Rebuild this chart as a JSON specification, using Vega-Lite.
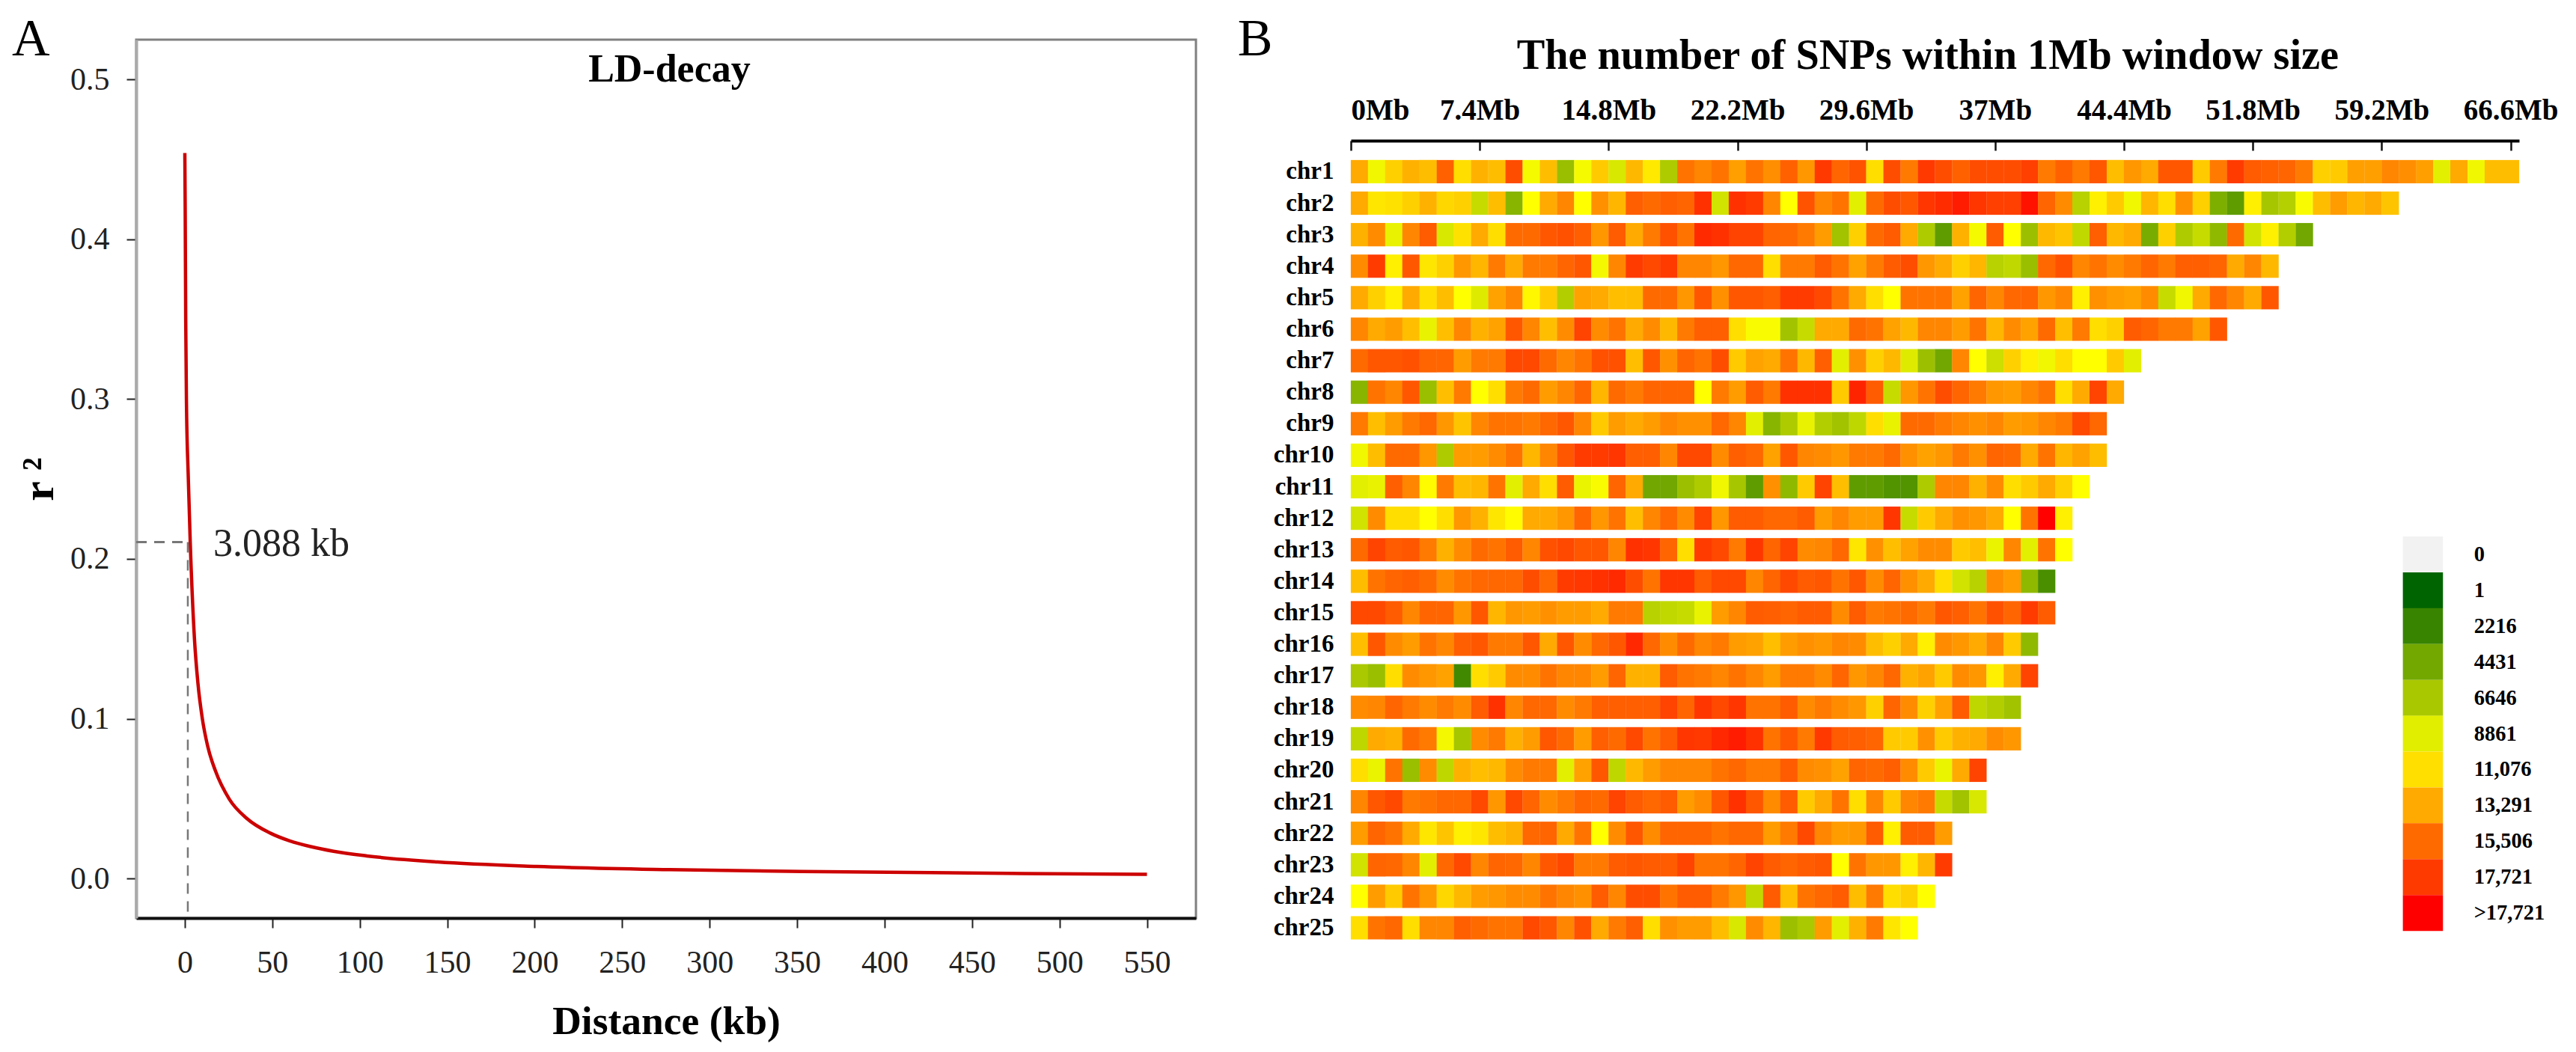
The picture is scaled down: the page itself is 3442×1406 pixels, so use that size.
{"$schema":"https://vega.github.io/schema/vega-lite/v6.json","background":"white","padding":{"left":14,"top":16,"right":0,"bottom":0},"spacing":53,"config":{"font":"Liberation Serif","axis":{"grid":false},"title":{"font":"Liberation Serif"},"legend":{"disable":true}},"hconcat":[{"width":1416,"height":1174,"view":{"stroke":"#808080","strokeWidth":3},"layer":[{"data":{"values":[{"kb":0,"r2":0.454},{"kb":0.2,"r2":0.42},{"kb":0.5,"r2":0.35},{"kb":0.9,"r2":0.3},{"kb":2,"r2":0.25},{"kb":3.088,"r2":0.2105},{"kb":5.5,"r2":0.15},{"kb":7.5,"r2":0.122},{"kb":10,"r2":0.1},{"kb":13,"r2":0.083},{"kb":17.5,"r2":0.0673},{"kb":25.5,"r2":0.0495},{"kb":35.5,"r2":0.0375},{"kb":49,"r2":0.0283},{"kb":60,"r2":0.0235},{"kb":72,"r2":0.0199},{"kb":85,"r2":0.017},{"kb":104,"r2":0.0141},{"kb":144.5,"r2":0.0103},{"kb":201,"r2":0.0075},{"kb":277,"r2":0.0055},{"kb":378,"r2":0.0041},{"kb":479,"r2":0.0031},{"kb":550,"r2":0.0026}]},"mark":{"type":"line","color":"#cc0000","strokeWidth":4.5,"interpolate":"monotone"},"encoding":{"x":{"field":"kb","type":"quantitative","title":"Distance (kb)","scale":{"domain":[-27.8,578],"nice":false,"zero":false},"axis":{"values":[0,50,100,150,200,250,300,350,400,450,500,550],"domain":true,"domainColor":"#111111","domainWidth":4,"tickColor":"#222222","tickWidth":2,"tickSize":13,"labelFontSize":42,"labelColor":"#222222","labelPadding":26,"labelFont":"Liberation Serif","titleFontSize":53.5,"titleFontWeight":"bold","titleColor":"#000000","titlePadding":32}},"y":{"field":"r2","type":"quantitative","title":"r ²","scale":{"domain":[-0.0248,0.525],"nice":false,"zero":false},"axis":{"values":[0,0.1,0.2,0.3,0.4,0.5],"format":".1f","domain":true,"domainColor":"#aaaaaa","domainWidth":4,"tickColor":"#222222","tickWidth":2,"tickSize":13,"labelFontSize":42,"labelColor":"#222222","labelPadding":23,"titleFontSize":60,"titleFontWeight":"bold","titleColor":"#000000","titlePadding":10}}}},{"data":{"values":[{}]},"mark":{"type":"rule","color":"#777777","strokeWidth":3,"strokeDash":[14,10]},"encoding":{"x":{"datum":-27.8},"x2":{"datum":3.088},"y":{"datum":0.2105}}},{"data":{"values":[{}]},"mark":{"type":"rule","color":"#777777","strokeWidth":2.5,"strokeDash":[14,10]},"encoding":{"x":{"datum":1.7},"y":{"datum":0.2105},"y2":{"datum":-0.0248}}},{"data":{"values":[{}]},"mark":{"type":"text","font":"Liberation Serif","fontSize":52,"align":"left","baseline":"middle","color":"#222222"},"encoding":{"x":{"datum":16.3},"y":{"datum":0.2094},"text":{"value":"3.088 kb"}}},{"data":{"values":[{}]},"mark":{"type":"text","font":"Liberation Serif","fontSize":52,"fontWeight":"bold","align":"center","baseline":"alphabetic","color":"#000000"},"encoding":{"x":{"datum":277},"y":{"datum":0.4988},"text":{"value":"LD-decay"}}},{"data":{"values":[{}]},"mark":{"type":"text","font":"Liberation Serif","fontSize":70,"align":"center","baseline":"alphabetic","color":"#000000","clip":false},"encoding":{"x":{"datum":-88},"y":{"datum":0.5152},"text":{"value":"A"}}}]},{"width":1561,"height":1202.6,"view":{"stroke":null},"resolve":{"scale":{"y":"independent"}},"layer":[{"data":{"values":[{"chr":1,"w":0,"n":13300},{"chr":1,"w":1,"n":9400},{"chr":1,"w":2,"n":11700},{"chr":1,"w":3,"n":13000},{"chr":1,"w":4,"n":12500},{"chr":1,"w":5,"n":16000},{"chr":1,"w":6,"n":11100},{"chr":1,"w":7,"n":13000},{"chr":1,"w":8,"n":12500},{"chr":1,"w":9,"n":17000},{"chr":1,"w":10,"n":9600},{"chr":1,"w":11,"n":12500},{"chr":1,"w":12,"n":6000},{"chr":1,"w":13,"n":9600},{"chr":1,"w":14,"n":11900},{"chr":1,"w":15,"n":8500},{"chr":1,"w":16,"n":12700},{"chr":1,"w":17,"n":10700},{"chr":1,"w":18,"n":6800},{"chr":1,"w":19,"n":15200},{"chr":1,"w":20,"n":14600},{"chr":1,"w":21,"n":15200},{"chr":1,"w":22,"n":13700},{"chr":1,"w":23,"n":15200},{"chr":1,"w":24,"n":14300},{"chr":1,"w":25,"n":16000},{"chr":1,"w":26,"n":14000},{"chr":1,"w":27,"n":17800},{"chr":1,"w":28,"n":15800},{"chr":1,"w":29,"n":16700},{"chr":1,"w":30,"n":11100},{"chr":1,"w":31,"n":17000},{"chr":1,"w":32,"n":15000},{"chr":1,"w":33,"n":17800},{"chr":1,"w":34,"n":17000},{"chr":1,"w":35,"n":16000},{"chr":1,"w":36,"n":17000},{"chr":1,"w":37,"n":17000},{"chr":1,"w":38,"n":17000},{"chr":1,"w":39,"n":17500},{"chr":1,"w":40,"n":15000},{"chr":1,"w":41,"n":16000},{"chr":1,"w":42,"n":15000},{"chr":1,"w":43,"n":16500},{"chr":1,"w":44,"n":12500},{"chr":1,"w":45,"n":14000},{"chr":1,"w":46,"n":13300},{"chr":1,"w":47,"n":16500},{"chr":1,"w":48,"n":16500},{"chr":1,"w":49,"n":11900},{"chr":1,"w":50,"n":15000},{"chr":1,"w":51,"n":17700},{"chr":1,"w":52,"n":16300},{"chr":1,"w":53,"n":16000},{"chr":1,"w":54,"n":15800},{"chr":1,"w":55,"n":15000},{"chr":1,"w":56,"n":11700},{"chr":1,"w":57,"n":11900},{"chr":1,"w":58,"n":13700},{"chr":1,"w":59,"n":13700},{"chr":1,"w":60,"n":14600},{"chr":1,"w":61,"n":14300},{"chr":1,"w":62,"n":13700},{"chr":1,"w":63,"n":8900},{"chr":1,"w":64,"n":13300},{"chr":1,"w":65,"n":9400},{"chr":1,"w":66,"n":12500},{"chr":1,"w":67,"n":12500},{"chr":2,"w":0,"n":13300},{"chr":2,"w":1,"n":10800},{"chr":2,"w":2,"n":11000},{"chr":2,"w":3,"n":11700},{"chr":2,"w":4,"n":13000},{"chr":2,"w":5,"n":11400},{"chr":2,"w":6,"n":11700},{"chr":2,"w":7,"n":7800},{"chr":2,"w":8,"n":12500},{"chr":2,"w":9,"n":5300},{"chr":2,"w":10,"n":9900},{"chr":2,"w":11,"n":13300},{"chr":2,"w":12,"n":14600},{"chr":2,"w":13,"n":9900},{"chr":2,"w":14,"n":14200},{"chr":2,"w":15,"n":12800},{"chr":2,"w":16,"n":16100},{"chr":2,"w":17,"n":15500},{"chr":2,"w":18,"n":16100},{"chr":2,"w":19,"n":15800},{"chr":2,"w":20,"n":18300},{"chr":2,"w":21,"n":8200},{"chr":2,"w":22,"n":18300},{"chr":2,"w":23,"n":17700},{"chr":2,"w":24,"n":14600},{"chr":2,"w":25,"n":9900},{"chr":2,"w":26,"n":16700},{"chr":2,"w":27,"n":14600},{"chr":2,"w":28,"n":15200},{"chr":2,"w":29,"n":8900},{"chr":2,"w":30,"n":15500},{"chr":2,"w":31,"n":17000},{"chr":2,"w":32,"n":16500},{"chr":2,"w":33,"n":18000},{"chr":2,"w":34,"n":18600},{"chr":2,"w":35,"n":19300},{"chr":2,"w":36,"n":18000},{"chr":2,"w":37,"n":17500},{"chr":2,"w":38,"n":17500},{"chr":2,"w":39,"n":19600},{"chr":2,"w":40,"n":15800},{"chr":2,"w":41,"n":14400},{"chr":2,"w":42,"n":7200},{"chr":2,"w":43,"n":10500},{"chr":2,"w":44,"n":11900},{"chr":2,"w":45,"n":9400},{"chr":2,"w":46,"n":12800},{"chr":2,"w":47,"n":11100},{"chr":2,"w":48,"n":14200},{"chr":2,"w":49,"n":11700},{"chr":2,"w":50,"n":4900},{"chr":2,"w":51,"n":3700},{"chr":2,"w":52,"n":10500},{"chr":2,"w":53,"n":6500},{"chr":2,"w":54,"n":7100},{"chr":2,"w":55,"n":9700},{"chr":2,"w":56,"n":12500},{"chr":2,"w":57,"n":13800},{"chr":2,"w":58,"n":12800},{"chr":2,"w":59,"n":13300},{"chr":2,"w":60,"n":12200},{"chr":3,"w":0,"n":13000},{"chr":3,"w":1,"n":14400},{"chr":3,"w":2,"n":9100},{"chr":3,"w":3,"n":14600},{"chr":3,"w":4,"n":16300},{"chr":3,"w":5,"n":8500},{"chr":3,"w":6,"n":11000},{"chr":3,"w":7,"n":13300},{"chr":3,"w":8,"n":11100},{"chr":3,"w":9,"n":15500},{"chr":3,"w":10,"n":15500},{"chr":3,"w":11,"n":16500},{"chr":3,"w":12,"n":16800},{"chr":3,"w":13,"n":16100},{"chr":3,"w":14,"n":14000},{"chr":3,"w":15,"n":16300},{"chr":3,"w":16,"n":13300},{"chr":3,"w":17,"n":15000},{"chr":3,"w":18,"n":16800},{"chr":3,"w":19,"n":15200},{"chr":3,"w":20,"n":18700},{"chr":3,"w":21,"n":18300},{"chr":3,"w":22,"n":17400},{"chr":3,"w":23,"n":17400},{"chr":3,"w":24,"n":15800},{"chr":3,"w":25,"n":15600},{"chr":3,"w":26,"n":15000},{"chr":3,"w":27,"n":13800},{"chr":3,"w":28,"n":6300},{"chr":3,"w":29,"n":11700},{"chr":3,"w":30,"n":15500},{"chr":3,"w":31,"n":16300},{"chr":3,"w":32,"n":13300},{"chr":3,"w":33,"n":6800},{"chr":3,"w":34,"n":3700},{"chr":3,"w":35,"n":13000},{"chr":3,"w":36,"n":9600},{"chr":3,"w":37,"n":16300},{"chr":3,"w":38,"n":9900},{"chr":3,"w":39,"n":6100},{"chr":3,"w":40,"n":12700},{"chr":3,"w":41,"n":12200},{"chr":3,"w":42,"n":7600},{"chr":3,"w":43,"n":16100},{"chr":3,"w":44,"n":12700},{"chr":3,"w":45,"n":13300},{"chr":3,"w":46,"n":4700},{"chr":3,"w":47,"n":11700},{"chr":3,"w":48,"n":6800},{"chr":3,"w":49,"n":7800},{"chr":3,"w":50,"n":5600},{"chr":3,"w":51,"n":15500},{"chr":3,"w":52,"n":8200},{"chr":3,"w":53,"n":10500},{"chr":3,"w":54,"n":7000},{"chr":3,"w":55,"n":4400},{"chr":4,"w":0,"n":14400},{"chr":4,"w":1,"n":17700},{"chr":4,"w":2,"n":10500},{"chr":4,"w":3,"n":16500},{"chr":4,"w":4,"n":10800},{"chr":4,"w":5,"n":11700},{"chr":4,"w":6,"n":14000},{"chr":4,"w":7,"n":12800},{"chr":4,"w":8,"n":15000},{"chr":4,"w":9,"n":13300},{"chr":4,"w":10,"n":15000},{"chr":4,"w":11,"n":15000},{"chr":4,"w":12,"n":15800},{"chr":4,"w":13,"n":16500},{"chr":4,"w":14,"n":9500},{"chr":4,"w":15,"n":14600},{"chr":4,"w":16,"n":17700},{"chr":4,"w":17,"n":17200},{"chr":4,"w":18,"n":17700},{"chr":4,"w":19,"n":14600},{"chr":4,"w":20,"n":14600},{"chr":4,"w":21,"n":14000},{"chr":4,"w":22,"n":15600},{"chr":4,"w":23,"n":15600},{"chr":4,"w":24,"n":11100},{"chr":4,"w":25,"n":15000},{"chr":4,"w":26,"n":15000},{"chr":4,"w":27,"n":16300},{"chr":4,"w":28,"n":15200},{"chr":4,"w":29,"n":13600},{"chr":4,"w":30,"n":15000},{"chr":4,"w":31,"n":16300},{"chr":4,"w":32,"n":17000},{"chr":4,"w":33,"n":14000},{"chr":4,"w":34,"n":13300},{"chr":4,"w":35,"n":11700},{"chr":4,"w":36,"n":12800},{"chr":4,"w":37,"n":7200},{"chr":4,"w":38,"n":7600},{"chr":4,"w":39,"n":6000},{"chr":4,"w":40,"n":15600},{"chr":4,"w":41,"n":16800},{"chr":4,"w":42,"n":14600},{"chr":4,"w":43,"n":15200},{"chr":4,"w":44,"n":14400},{"chr":4,"w":45,"n":15000},{"chr":4,"w":46,"n":15800},{"chr":4,"w":47,"n":15000},{"chr":4,"w":48,"n":16100},{"chr":4,"w":49,"n":16100},{"chr":4,"w":50,"n":15800},{"chr":4,"w":51,"n":13300},{"chr":4,"w":52,"n":14600},{"chr":4,"w":53,"n":12700},{"chr":5,"w":0,"n":13300},{"chr":5,"w":1,"n":11700},{"chr":5,"w":2,"n":10500},{"chr":5,"w":3,"n":13300},{"chr":5,"w":4,"n":11100},{"chr":5,"w":5,"n":12500},{"chr":5,"w":6,"n":9900},{"chr":5,"w":7,"n":8700},{"chr":5,"w":8,"n":13600},{"chr":5,"w":9,"n":14600},{"chr":5,"w":10,"n":10200},{"chr":5,"w":11,"n":11900},{"chr":5,"w":12,"n":7000},{"chr":5,"w":13,"n":13600},{"chr":5,"w":14,"n":13300},{"chr":5,"w":15,"n":12400},{"chr":5,"w":16,"n":12500},{"chr":5,"w":17,"n":15500},{"chr":5,"w":18,"n":15500},{"chr":5,"w":19,"n":14000},{"chr":5,"w":20,"n":16500},{"chr":5,"w":21,"n":14200},{"chr":5,"w":22,"n":16500},{"chr":5,"w":23,"n":16500},{"chr":5,"w":24,"n":16100},{"chr":5,"w":25,"n":17700},{"chr":5,"w":26,"n":17700},{"chr":5,"w":27,"n":17200},{"chr":5,"w":28,"n":15200},{"chr":5,"w":29,"n":13300},{"chr":5,"w":30,"n":11100},{"chr":5,"w":31,"n":9900},{"chr":5,"w":32,"n":15200},{"chr":5,"w":33,"n":15200},{"chr":5,"w":34,"n":15200},{"chr":5,"w":35,"n":13600},{"chr":5,"w":36,"n":15800},{"chr":5,"w":37,"n":14600},{"chr":5,"w":38,"n":15600},{"chr":5,"w":39,"n":15800},{"chr":5,"w":40,"n":14000},{"chr":5,"w":41,"n":14600},{"chr":5,"w":42,"n":10500},{"chr":5,"w":43,"n":14200},{"chr":5,"w":44,"n":13800},{"chr":5,"w":45,"n":13600},{"chr":5,"w":46,"n":14400},{"chr":5,"w":47,"n":7800},{"chr":5,"w":48,"n":9400},{"chr":5,"w":49,"n":13300},{"chr":5,"w":50,"n":15600},{"chr":5,"w":51,"n":14600},{"chr":5,"w":52,"n":13300},{"chr":5,"w":53,"n":16500},{"chr":6,"w":0,"n":14600},{"chr":6,"w":1,"n":13300},{"chr":6,"w":2,"n":13800},{"chr":6,"w":3,"n":12400},{"chr":6,"w":4,"n":9100},{"chr":6,"w":5,"n":12400},{"chr":6,"w":6,"n":14600},{"chr":6,"w":7,"n":13000},{"chr":6,"w":8,"n":13600},{"chr":6,"w":9,"n":16500},{"chr":6,"w":10,"n":14600},{"chr":6,"w":11,"n":12400},{"chr":6,"w":12,"n":14400},{"chr":6,"w":13,"n":17400},{"chr":6,"w":14,"n":14400},{"chr":6,"w":15,"n":15200},{"chr":6,"w":16,"n":13300},{"chr":6,"w":17,"n":14400},{"chr":6,"w":18,"n":12700},{"chr":6,"w":19,"n":15000},{"chr":6,"w":20,"n":16100},{"chr":6,"w":21,"n":16100},{"chr":6,"w":22,"n":11100},{"chr":6,"w":23,"n":9700},{"chr":6,"w":24,"n":9700},{"chr":6,"w":25,"n":6300},{"chr":6,"w":26,"n":7800},{"chr":6,"w":27,"n":13300},{"chr":6,"w":28,"n":13300},{"chr":6,"w":29,"n":15500},{"chr":6,"w":30,"n":15200},{"chr":6,"w":31,"n":13600},{"chr":6,"w":32,"n":12700},{"chr":6,"w":33,"n":14600},{"chr":6,"w":34,"n":14600},{"chr":6,"w":35,"n":13800},{"chr":6,"w":36,"n":15200},{"chr":6,"w":37,"n":12800},{"chr":6,"w":38,"n":14400},{"chr":6,"w":39,"n":13600},{"chr":6,"w":40,"n":15500},{"chr":6,"w":41,"n":12400},{"chr":6,"w":42,"n":15000},{"chr":6,"w":43,"n":11100},{"chr":6,"w":44,"n":11700},{"chr":6,"w":45,"n":16300},{"chr":6,"w":46,"n":15800},{"chr":6,"w":47,"n":15000},{"chr":6,"w":48,"n":15000},{"chr":6,"w":49,"n":13600},{"chr":6,"w":50,"n":16500},{"chr":7,"w":0,"n":15500},{"chr":7,"w":1,"n":16500},{"chr":7,"w":2,"n":16500},{"chr":7,"w":3,"n":16800},{"chr":7,"w":4,"n":15800},{"chr":7,"w":5,"n":15800},{"chr":7,"w":6,"n":13800},{"chr":7,"w":7,"n":15000},{"chr":7,"w":8,"n":15000},{"chr":7,"w":9,"n":17200},{"chr":7,"w":10,"n":17200},{"chr":7,"w":11,"n":15500},{"chr":7,"w":12,"n":14600},{"chr":7,"w":13,"n":15200},{"chr":7,"w":14,"n":16800},{"chr":7,"w":15,"n":16800},{"chr":7,"w":16,"n":12400},{"chr":7,"w":17,"n":16500},{"chr":7,"w":18,"n":14200},{"chr":7,"w":19,"n":15800},{"chr":7,"w":20,"n":15200},{"chr":7,"w":21,"n":17000},{"chr":7,"w":22,"n":11900},{"chr":7,"w":23,"n":13600},{"chr":7,"w":24,"n":13300},{"chr":7,"w":25,"n":15200},{"chr":7,"w":26,"n":12700},{"chr":7,"w":27,"n":16100},{"chr":7,"w":28,"n":8900},{"chr":7,"w":29,"n":14200},{"chr":7,"w":30,"n":11700},{"chr":7,"w":31,"n":12700},{"chr":7,"w":32,"n":8700},{"chr":7,"w":33,"n":6100},{"chr":7,"w":34,"n":4400},{"chr":7,"w":35,"n":14600},{"chr":7,"w":36,"n":9900},{"chr":7,"w":37,"n":8000},{"chr":7,"w":38,"n":11700},{"chr":7,"w":39,"n":10500},{"chr":7,"w":40,"n":9400},{"chr":7,"w":41,"n":11100},{"chr":7,"w":42,"n":9900},{"chr":7,"w":43,"n":9900},{"chr":7,"w":44,"n":11900},{"chr":7,"w":45,"n":8900},{"chr":8,"w":0,"n":5300},{"chr":8,"w":1,"n":15200},{"chr":8,"w":2,"n":14600},{"chr":8,"w":3,"n":16500},{"chr":8,"w":4,"n":6000},{"chr":8,"w":5,"n":12400},{"chr":8,"w":6,"n":15000},{"chr":8,"w":7,"n":9900},{"chr":8,"w":8,"n":11100},{"chr":8,"w":9,"n":15000},{"chr":8,"w":10,"n":15500},{"chr":8,"w":11,"n":13800},{"chr":8,"w":12,"n":14600},{"chr":8,"w":13,"n":15800},{"chr":8,"w":14,"n":12800},{"chr":8,"w":15,"n":15500},{"chr":8,"w":16,"n":15000},{"chr":8,"w":17,"n":15800},{"chr":8,"w":18,"n":15800},{"chr":8,"w":19,"n":15800},{"chr":8,"w":20,"n":9900},{"chr":8,"w":21,"n":15000},{"chr":8,"w":22,"n":13800},{"chr":8,"w":23,"n":16300},{"chr":8,"w":24,"n":15000},{"chr":8,"w":25,"n":18300},{"chr":8,"w":26,"n":18300},{"chr":8,"w":27,"n":18300},{"chr":8,"w":28,"n":11900},{"chr":8,"w":29,"n":19000},{"chr":8,"w":30,"n":16300},{"chr":8,"w":31,"n":7800},{"chr":8,"w":32,"n":14000},{"chr":8,"w":33,"n":15200},{"chr":8,"w":34,"n":17000},{"chr":8,"w":35,"n":15800},{"chr":8,"w":36,"n":15000},{"chr":8,"w":37,"n":14000},{"chr":8,"w":38,"n":13800},{"chr":8,"w":39,"n":14600},{"chr":8,"w":40,"n":15200},{"chr":8,"w":41,"n":11100},{"chr":8,"w":42,"n":13300},{"chr":8,"w":43,"n":17400},{"chr":8,"w":44,"n":13300},{"chr":9,"w":0,"n":15000},{"chr":9,"w":1,"n":12400},{"chr":9,"w":2,"n":13800},{"chr":9,"w":3,"n":15000},{"chr":9,"w":4,"n":15700},{"chr":9,"w":5,"n":14000},{"chr":9,"w":6,"n":12200},{"chr":9,"w":7,"n":14600},{"chr":9,"w":8,"n":15200},{"chr":9,"w":9,"n":15200},{"chr":9,"w":10,"n":15000},{"chr":9,"w":11,"n":15700},{"chr":9,"w":12,"n":16500},{"chr":9,"w":13,"n":14600},{"chr":9,"w":14,"n":11900},{"chr":9,"w":15,"n":13800},{"chr":9,"w":16,"n":13300},{"chr":9,"w":17,"n":13800},{"chr":9,"w":18,"n":14600},{"chr":9,"w":19,"n":14200},{"chr":9,"w":20,"n":14200},{"chr":9,"w":21,"n":15700},{"chr":9,"w":22,"n":14600},{"chr":9,"w":23,"n":8900},{"chr":9,"w":24,"n":5300},{"chr":9,"w":25,"n":6800},{"chr":9,"w":26,"n":9100},{"chr":9,"w":27,"n":7000},{"chr":9,"w":28,"n":6300},{"chr":9,"w":29,"n":7500},{"chr":9,"w":30,"n":11100},{"chr":9,"w":31,"n":9100},{"chr":9,"w":32,"n":15500},{"chr":9,"w":33,"n":15500},{"chr":9,"w":34,"n":15000},{"chr":9,"w":35,"n":14600},{"chr":9,"w":36,"n":14200},{"chr":9,"w":37,"n":14600},{"chr":9,"w":38,"n":13800},{"chr":9,"w":39,"n":14000},{"chr":9,"w":40,"n":14600},{"chr":9,"w":41,"n":15000},{"chr":9,"w":42,"n":17200},{"chr":9,"w":43,"n":15700},{"chr":10,"w":0,"n":9400},{"chr":10,"w":1,"n":12500},{"chr":10,"w":2,"n":15500},{"chr":10,"w":3,"n":15500},{"chr":10,"w":4,"n":14000},{"chr":10,"w":5,"n":6800},{"chr":10,"w":6,"n":13800},{"chr":10,"w":7,"n":13800},{"chr":10,"w":8,"n":14400},{"chr":10,"w":9,"n":15200},{"chr":10,"w":10,"n":12800},{"chr":10,"w":11,"n":14600},{"chr":10,"w":12,"n":16500},{"chr":10,"w":13,"n":17700},{"chr":10,"w":14,"n":17700},{"chr":10,"w":15,"n":18000},{"chr":10,"w":16,"n":16100},{"chr":10,"w":17,"n":16100},{"chr":10,"w":18,"n":14600},{"chr":10,"w":19,"n":17200},{"chr":10,"w":20,"n":17200},{"chr":10,"w":21,"n":14400},{"chr":10,"w":22,"n":16100},{"chr":10,"w":23,"n":15700},{"chr":10,"w":24,"n":13600},{"chr":10,"w":25,"n":16500},{"chr":10,"w":26,"n":14600},{"chr":10,"w":27,"n":14400},{"chr":10,"w":28,"n":14000},{"chr":10,"w":29,"n":15000},{"chr":10,"w":30,"n":15000},{"chr":10,"w":31,"n":15500},{"chr":10,"w":32,"n":14200},{"chr":10,"w":33,"n":13600},{"chr":10,"w":34,"n":14000},{"chr":10,"w":35,"n":15000},{"chr":10,"w":36,"n":14200},{"chr":10,"w":37,"n":15800},{"chr":10,"w":38,"n":15500},{"chr":10,"w":39,"n":13300},{"chr":10,"w":40,"n":15200},{"chr":10,"w":41,"n":12800},{"chr":10,"w":42,"n":13600},{"chr":10,"w":43,"n":12500},{"chr":11,"w":0,"n":8900},{"chr":11,"w":1,"n":9100},{"chr":11,"w":2,"n":16100},{"chr":11,"w":3,"n":14600},{"chr":11,"w":4,"n":10000},{"chr":11,"w":5,"n":15000},{"chr":11,"w":6,"n":12500},{"chr":11,"w":7,"n":12800},{"chr":11,"w":8,"n":15200},{"chr":11,"w":9,"n":8900},{"chr":11,"w":10,"n":13300},{"chr":11,"w":11,"n":11100},{"chr":11,"w":12,"n":16300},{"chr":11,"w":13,"n":9200},{"chr":11,"w":14,"n":9700},{"chr":11,"w":15,"n":15800},{"chr":11,"w":16,"n":13300},{"chr":11,"w":17,"n":4400},{"chr":11,"w":18,"n":4400},{"chr":11,"w":19,"n":6100},{"chr":11,"w":20,"n":6800},{"chr":11,"w":21,"n":9400},{"chr":11,"w":22,"n":6500},{"chr":11,"w":23,"n":3700},{"chr":11,"w":24,"n":14200},{"chr":11,"w":25,"n":5600},{"chr":11,"w":26,"n":11900},{"chr":11,"w":27,"n":17400},{"chr":11,"w":28,"n":12400},{"chr":11,"w":29,"n":3700},{"chr":11,"w":30,"n":3700},{"chr":11,"w":31,"n":3200},{"chr":11,"w":32,"n":3200},{"chr":11,"w":33,"n":6800},{"chr":11,"w":34,"n":14600},{"chr":11,"w":35,"n":14600},{"chr":11,"w":36,"n":13000},{"chr":11,"w":37,"n":14400},{"chr":11,"w":38,"n":11100},{"chr":11,"w":39,"n":11900},{"chr":11,"w":40,"n":13300},{"chr":11,"w":41,"n":11700},{"chr":11,"w":42,"n":9900},{"chr":12,"w":0,"n":8200},{"chr":12,"w":1,"n":14400},{"chr":12,"w":2,"n":11100},{"chr":12,"w":3,"n":11100},{"chr":12,"w":4,"n":9900},{"chr":12,"w":5,"n":11100},{"chr":12,"w":6,"n":14000},{"chr":12,"w":7,"n":13000},{"chr":12,"w":8,"n":10800},{"chr":12,"w":9,"n":10000},{"chr":12,"w":10,"n":13300},{"chr":12,"w":11,"n":13300},{"chr":12,"w":12,"n":14000},{"chr":12,"w":13,"n":15800},{"chr":12,"w":14,"n":14000},{"chr":12,"w":15,"n":15200},{"chr":12,"w":16,"n":12400},{"chr":12,"w":17,"n":14600},{"chr":12,"w":18,"n":15600},{"chr":12,"w":19,"n":14400},{"chr":12,"w":20,"n":17400},{"chr":12,"w":21,"n":14000},{"chr":12,"w":22,"n":16300},{"chr":12,"w":23,"n":16300},{"chr":12,"w":24,"n":15700},{"chr":12,"w":25,"n":15700},{"chr":12,"w":26,"n":16300},{"chr":12,"w":27,"n":13800},{"chr":12,"w":28,"n":14600},{"chr":12,"w":29,"n":13800},{"chr":12,"w":30,"n":13800},{"chr":12,"w":31,"n":18000},{"chr":12,"w":32,"n":7800},{"chr":12,"w":33,"n":11900},{"chr":12,"w":34,"n":13300},{"chr":12,"w":35,"n":14200},{"chr":12,"w":36,"n":14000},{"chr":12,"w":37,"n":13300},{"chr":12,"w":38,"n":9900},{"chr":12,"w":39,"n":15200},{"chr":12,"w":40,"n":19900},{"chr":12,"w":41,"n":10500},{"chr":13,"w":0,"n":15500},{"chr":13,"w":1,"n":17400},{"chr":13,"w":2,"n":16300},{"chr":13,"w":3,"n":16500},{"chr":13,"w":4,"n":15000},{"chr":13,"w":5,"n":13000},{"chr":13,"w":6,"n":14400},{"chr":13,"w":7,"n":15500},{"chr":13,"w":8,"n":15200},{"chr":13,"w":9,"n":16300},{"chr":13,"w":10,"n":14600},{"chr":13,"w":11,"n":16800},{"chr":13,"w":12,"n":17200},{"chr":13,"w":13,"n":16500},{"chr":13,"w":14,"n":16500},{"chr":13,"w":15,"n":14600},{"chr":13,"w":16,"n":18300},{"chr":13,"w":17,"n":18000},{"chr":13,"w":18,"n":15800},{"chr":13,"w":19,"n":11100},{"chr":13,"w":20,"n":17700},{"chr":13,"w":21,"n":17200},{"chr":13,"w":22,"n":15000},{"chr":13,"w":23,"n":18000},{"chr":13,"w":24,"n":15800},{"chr":13,"w":25,"n":17400},{"chr":13,"w":26,"n":14400},{"chr":13,"w":27,"n":14600},{"chr":13,"w":28,"n":15700},{"chr":13,"w":29,"n":10800},{"chr":13,"w":30,"n":14200},{"chr":13,"w":31,"n":12400},{"chr":13,"w":32,"n":13600},{"chr":13,"w":33,"n":14400},{"chr":13,"w":34,"n":14400},{"chr":13,"w":35,"n":11900},{"chr":13,"w":36,"n":12400},{"chr":13,"w":37,"n":9200},{"chr":13,"w":38,"n":14600},{"chr":13,"w":39,"n":8900},{"chr":13,"w":40,"n":15200},{"chr":13,"w":41,"n":9900},{"chr":14,"w":0,"n":12500},{"chr":14,"w":1,"n":15200},{"chr":14,"w":2,"n":15800},{"chr":14,"w":3,"n":16100},{"chr":14,"w":4,"n":15500},{"chr":14,"w":5,"n":14400},{"chr":14,"w":6,"n":15200},{"chr":14,"w":7,"n":15700},{"chr":14,"w":8,"n":15700},{"chr":14,"w":9,"n":15700},{"chr":14,"w":10,"n":17000},{"chr":14,"w":11,"n":15700},{"chr":14,"w":12,"n":17700},{"chr":14,"w":13,"n":17900},{"chr":14,"w":14,"n":18300},{"chr":14,"w":15,"n":18700},{"chr":14,"w":16,"n":17000},{"chr":14,"w":17,"n":15200},{"chr":14,"w":18,"n":18000},{"chr":14,"w":19,"n":18000},{"chr":14,"w":20,"n":16300},{"chr":14,"w":21,"n":17200},{"chr":14,"w":22,"n":17200},{"chr":14,"w":23,"n":14600},{"chr":14,"w":24,"n":15800},{"chr":14,"w":25,"n":17200},{"chr":14,"w":26,"n":16300},{"chr":14,"w":27,"n":16500},{"chr":14,"w":28,"n":15200},{"chr":14,"w":29,"n":16500},{"chr":14,"w":30,"n":14400},{"chr":14,"w":31,"n":15800},{"chr":14,"w":32,"n":14200},{"chr":14,"w":33,"n":13300},{"chr":14,"w":34,"n":11100},{"chr":14,"w":35,"n":8200},{"chr":14,"w":36,"n":7200},{"chr":14,"w":37,"n":14400},{"chr":14,"w":38,"n":13800},{"chr":14,"w":39,"n":5600},{"chr":14,"w":40,"n":2900},{"chr":15,"w":0,"n":17200},{"chr":15,"w":1,"n":17200},{"chr":15,"w":2,"n":16300},{"chr":15,"w":3,"n":14600},{"chr":15,"w":4,"n":15800},{"chr":15,"w":5,"n":15800},{"chr":15,"w":6,"n":14000},{"chr":15,"w":7,"n":16500},{"chr":15,"w":8,"n":12800},{"chr":15,"w":9,"n":14000},{"chr":15,"w":10,"n":13800},{"chr":15,"w":11,"n":14200},{"chr":15,"w":12,"n":13800},{"chr":15,"w":13,"n":13800},{"chr":15,"w":14,"n":13300},{"chr":15,"w":15,"n":15000},{"chr":15,"w":16,"n":15000},{"chr":15,"w":17,"n":7200},{"chr":15,"w":18,"n":7600},{"chr":15,"w":19,"n":7800},{"chr":15,"w":20,"n":9100},{"chr":15,"w":21,"n":13800},{"chr":15,"w":22,"n":14600},{"chr":15,"w":23,"n":16300},{"chr":15,"w":24,"n":16100},{"chr":15,"w":25,"n":15800},{"chr":15,"w":26,"n":16300},{"chr":15,"w":27,"n":16300},{"chr":15,"w":28,"n":14400},{"chr":15,"w":29,"n":16300},{"chr":15,"w":30,"n":15000},{"chr":15,"w":31,"n":15200},{"chr":15,"w":32,"n":15500},{"chr":15,"w":33,"n":15000},{"chr":15,"w":34,"n":16500},{"chr":15,"w":35,"n":16100},{"chr":15,"w":36,"n":15200},{"chr":15,"w":37,"n":16800},{"chr":15,"w":38,"n":15800},{"chr":15,"w":39,"n":17700},{"chr":15,"w":40,"n":16300},{"chr":16,"w":0,"n":12400},{"chr":16,"w":1,"n":16500},{"chr":16,"w":2,"n":14400},{"chr":16,"w":3,"n":13800},{"chr":16,"w":4,"n":15200},{"chr":16,"w":5,"n":14600},{"chr":16,"w":6,"n":16100},{"chr":16,"w":7,"n":16500},{"chr":16,"w":8,"n":15000},{"chr":16,"w":9,"n":15000},{"chr":16,"w":10,"n":16500},{"chr":16,"w":11,"n":13300},{"chr":16,"w":12,"n":16500},{"chr":16,"w":13,"n":14400},{"chr":16,"w":14,"n":15700},{"chr":16,"w":15,"n":16500},{"chr":16,"w":16,"n":18800},{"chr":16,"w":17,"n":15700},{"chr":16,"w":18,"n":14400},{"chr":16,"w":19,"n":15500},{"chr":16,"w":20,"n":14600},{"chr":16,"w":21,"n":15000},{"chr":16,"w":22,"n":13800},{"chr":16,"w":23,"n":13600},{"chr":16,"w":24,"n":12400},{"chr":16,"w":25,"n":13800},{"chr":16,"w":26,"n":14200},{"chr":16,"w":27,"n":14000},{"chr":16,"w":28,"n":14600},{"chr":16,"w":29,"n":14400},{"chr":16,"w":30,"n":12500},{"chr":16,"w":31,"n":11700},{"chr":16,"w":32,"n":13300},{"chr":16,"w":33,"n":10500},{"chr":16,"w":34,"n":14400},{"chr":16,"w":35,"n":14000},{"chr":16,"w":36,"n":13300},{"chr":16,"w":37,"n":14600},{"chr":16,"w":38,"n":11900},{"chr":16,"w":39,"n":5600},{"chr":17,"w":0,"n":6700},{"chr":17,"w":1,"n":6000},{"chr":17,"w":2,"n":11100},{"chr":17,"w":3,"n":14400},{"chr":17,"w":4,"n":14000},{"chr":17,"w":5,"n":13600},{"chr":17,"w":6,"n":2500},{"chr":17,"w":7,"n":11100},{"chr":17,"w":8,"n":11900},{"chr":17,"w":9,"n":14400},{"chr":17,"w":10,"n":14400},{"chr":17,"w":11,"n":15200},{"chr":17,"w":12,"n":14600},{"chr":17,"w":13,"n":14600},{"chr":17,"w":14,"n":13800},{"chr":17,"w":15,"n":15800},{"chr":17,"w":16,"n":13000},{"chr":17,"w":17,"n":13000},{"chr":17,"w":18,"n":16300},{"chr":17,"w":19,"n":15200},{"chr":17,"w":20,"n":15000},{"chr":17,"w":21,"n":14600},{"chr":17,"w":22,"n":15200},{"chr":17,"w":23,"n":14600},{"chr":17,"w":24,"n":13800},{"chr":17,"w":25,"n":15000},{"chr":17,"w":26,"n":15000},{"chr":17,"w":27,"n":14400},{"chr":17,"w":28,"n":15800},{"chr":17,"w":29,"n":14000},{"chr":17,"w":30,"n":14600},{"chr":17,"w":31,"n":15700},{"chr":17,"w":32,"n":13000},{"chr":17,"w":33,"n":13600},{"chr":17,"w":34,"n":11900},{"chr":17,"w":35,"n":14400},{"chr":17,"w":36,"n":14000},{"chr":17,"w":37,"n":10500},{"chr":17,"w":38,"n":13300},{"chr":17,"w":39,"n":17400},{"chr":18,"w":0,"n":14400},{"chr":18,"w":1,"n":14600},{"chr":18,"w":2,"n":15800},{"chr":18,"w":3,"n":15000},{"chr":18,"w":4,"n":14400},{"chr":18,"w":5,"n":15000},{"chr":18,"w":6,"n":14400},{"chr":18,"w":7,"n":16300},{"chr":18,"w":8,"n":18300},{"chr":18,"w":9,"n":14600},{"chr":18,"w":10,"n":15700},{"chr":18,"w":11,"n":15700},{"chr":18,"w":12,"n":14400},{"chr":18,"w":13,"n":15000},{"chr":18,"w":14,"n":16100},{"chr":18,"w":15,"n":16100},{"chr":18,"w":16,"n":16100},{"chr":18,"w":17,"n":16100},{"chr":18,"w":18,"n":17400},{"chr":18,"w":19,"n":15800},{"chr":18,"w":20,"n":18000},{"chr":18,"w":21,"n":17200},{"chr":18,"w":22,"n":18000},{"chr":18,"w":23,"n":15200},{"chr":18,"w":24,"n":15200},{"chr":18,"w":25,"n":16300},{"chr":18,"w":26,"n":14400},{"chr":18,"w":27,"n":15000},{"chr":18,"w":28,"n":14400},{"chr":18,"w":29,"n":14000},{"chr":18,"w":30,"n":11700},{"chr":18,"w":31,"n":15800},{"chr":18,"w":32,"n":14400},{"chr":18,"w":33,"n":11700},{"chr":18,"w":34,"n":13600},{"chr":18,"w":35,"n":16300},{"chr":18,"w":36,"n":7500},{"chr":18,"w":37,"n":7000},{"chr":18,"w":38,"n":6300},{"chr":19,"w":0,"n":7500},{"chr":19,"w":1,"n":13300},{"chr":19,"w":2,"n":13000},{"chr":19,"w":3,"n":15500},{"chr":19,"w":4,"n":15000},{"chr":19,"w":5,"n":9500},{"chr":19,"w":6,"n":6500},{"chr":19,"w":7,"n":14400},{"chr":19,"w":8,"n":15000},{"chr":19,"w":9,"n":13000},{"chr":19,"w":10,"n":13800},{"chr":19,"w":11,"n":16500},{"chr":19,"w":12,"n":15500},{"chr":19,"w":13,"n":13800},{"chr":19,"w":14,"n":16100},{"chr":19,"w":15,"n":15500},{"chr":19,"w":16,"n":17200},{"chr":19,"w":17,"n":15200},{"chr":19,"w":18,"n":16300},{"chr":19,"w":19,"n":18000},{"chr":19,"w":20,"n":17800},{"chr":19,"w":21,"n":18800},{"chr":19,"w":22,"n":19300},{"chr":19,"w":23,"n":18300},{"chr":19,"w":24,"n":15200},{"chr":19,"w":25,"n":16500},{"chr":19,"w":26,"n":15000},{"chr":19,"w":27,"n":17800},{"chr":19,"w":28,"n":16300},{"chr":19,"w":29,"n":16100},{"chr":19,"w":30,"n":15800},{"chr":19,"w":31,"n":11900},{"chr":19,"w":32,"n":11900},{"chr":19,"w":33,"n":14200},{"chr":19,"w":34,"n":11900},{"chr":19,"w":35,"n":13000},{"chr":19,"w":36,"n":13300},{"chr":19,"w":37,"n":14400},{"chr":19,"w":38,"n":14000},{"chr":20,"w":0,"n":11100},{"chr":20,"w":1,"n":9200},{"chr":20,"w":2,"n":15200},{"chr":20,"w":3,"n":6000},{"chr":20,"w":4,"n":14400},{"chr":20,"w":5,"n":7500},{"chr":20,"w":6,"n":13000},{"chr":20,"w":7,"n":12400},{"chr":20,"w":8,"n":12700},{"chr":20,"w":9,"n":14400},{"chr":20,"w":10,"n":15000},{"chr":20,"w":11,"n":15000},{"chr":20,"w":12,"n":8900},{"chr":20,"w":13,"n":13600},{"chr":20,"w":14,"n":16500},{"chr":20,"w":15,"n":7500},{"chr":20,"w":16,"n":12700},{"chr":20,"w":17,"n":13800},{"chr":20,"w":18,"n":14600},{"chr":20,"w":19,"n":14600},{"chr":20,"w":20,"n":14600},{"chr":20,"w":21,"n":15200},{"chr":20,"w":22,"n":15700},{"chr":20,"w":23,"n":15000},{"chr":20,"w":24,"n":15000},{"chr":20,"w":25,"n":16300},{"chr":20,"w":26,"n":14400},{"chr":20,"w":27,"n":14200},{"chr":20,"w":28,"n":13600},{"chr":20,"w":29,"n":15800},{"chr":20,"w":30,"n":15500},{"chr":20,"w":31,"n":16100},{"chr":20,"w":32,"n":14400},{"chr":20,"w":33,"n":11900},{"chr":20,"w":34,"n":9200},{"chr":20,"w":35,"n":13300},{"chr":20,"w":36,"n":17400},{"chr":21,"w":0,"n":14600},{"chr":21,"w":1,"n":16500},{"chr":21,"w":2,"n":17200},{"chr":21,"w":3,"n":15000},{"chr":21,"w":4,"n":15200},{"chr":21,"w":5,"n":15600},{"chr":21,"w":6,"n":15700},{"chr":21,"w":7,"n":17200},{"chr":21,"w":8,"n":14000},{"chr":21,"w":9,"n":17200},{"chr":21,"w":10,"n":15800},{"chr":21,"w":11,"n":14400},{"chr":21,"w":12,"n":15000},{"chr":21,"w":13,"n":15800},{"chr":21,"w":14,"n":15500},{"chr":21,"w":15,"n":17400},{"chr":21,"w":16,"n":16300},{"chr":21,"w":17,"n":15700},{"chr":21,"w":18,"n":16300},{"chr":21,"w":19,"n":13800},{"chr":21,"w":20,"n":14400},{"chr":21,"w":21,"n":16500},{"chr":21,"w":22,"n":18300},{"chr":21,"w":23,"n":16500},{"chr":21,"w":24,"n":14400},{"chr":21,"w":25,"n":16300},{"chr":21,"w":26,"n":11900},{"chr":21,"w":27,"n":13300},{"chr":21,"w":28,"n":15200},{"chr":21,"w":29,"n":11100},{"chr":21,"w":30,"n":14600},{"chr":21,"w":31,"n":11900},{"chr":21,"w":32,"n":14600},{"chr":21,"w":33,"n":15000},{"chr":21,"w":34,"n":7800},{"chr":21,"w":35,"n":6300},{"chr":21,"w":36,"n":8500},{"chr":22,"w":0,"n":13800},{"chr":22,"w":1,"n":15800},{"chr":22,"w":2,"n":15200},{"chr":22,"w":3,"n":13300},{"chr":22,"w":4,"n":10800},{"chr":22,"w":5,"n":12200},{"chr":22,"w":6,"n":10500},{"chr":22,"w":7,"n":10800},{"chr":22,"w":8,"n":12500},{"chr":22,"w":9,"n":13000},{"chr":22,"w":10,"n":15700},{"chr":22,"w":11,"n":15800},{"chr":22,"w":12,"n":13300},{"chr":22,"w":13,"n":15200},{"chr":22,"w":14,"n":9900},{"chr":22,"w":15,"n":14400},{"chr":22,"w":16,"n":16500},{"chr":22,"w":17,"n":14400},{"chr":22,"w":18,"n":15800},{"chr":22,"w":19,"n":15800},{"chr":22,"w":20,"n":15800},{"chr":22,"w":21,"n":15200},{"chr":22,"w":22,"n":15700},{"chr":22,"w":23,"n":15700},{"chr":22,"w":24,"n":13800},{"chr":22,"w":25,"n":15000},{"chr":22,"w":26,"n":17200},{"chr":22,"w":27,"n":14600},{"chr":22,"w":28,"n":13800},{"chr":22,"w":29,"n":14000},{"chr":22,"w":30,"n":16300},{"chr":22,"w":31,"n":10500},{"chr":22,"w":32,"n":16300},{"chr":22,"w":33,"n":16300},{"chr":22,"w":34,"n":13800},{"chr":23,"w":0,"n":8200},{"chr":23,"w":1,"n":15800},{"chr":23,"w":2,"n":15700},{"chr":23,"w":3,"n":14600},{"chr":23,"w":4,"n":8900},{"chr":23,"w":5,"n":15700},{"chr":23,"w":6,"n":17200},{"chr":23,"w":7,"n":14600},{"chr":23,"w":8,"n":15800},{"chr":23,"w":9,"n":15700},{"chr":23,"w":10,"n":14600},{"chr":23,"w":11,"n":16500},{"chr":23,"w":12,"n":17200},{"chr":23,"w":13,"n":15000},{"chr":23,"w":14,"n":15000},{"chr":23,"w":15,"n":16300},{"chr":23,"w":16,"n":16500},{"chr":23,"w":17,"n":16300},{"chr":23,"w":18,"n":16300},{"chr":23,"w":19,"n":17400},{"chr":23,"w":20,"n":15200},{"chr":23,"w":21,"n":15200},{"chr":23,"w":22,"n":15800},{"chr":23,"w":23,"n":17400},{"chr":23,"w":24,"n":16300},{"chr":23,"w":25,"n":15800},{"chr":23,"w":26,"n":16300},{"chr":23,"w":27,"n":16500},{"chr":23,"w":28,"n":9900},{"chr":23,"w":29,"n":15200},{"chr":23,"w":30,"n":14000},{"chr":23,"w":31,"n":14000},{"chr":23,"w":32,"n":10500},{"chr":23,"w":33,"n":12800},{"chr":23,"w":34,"n":17700},{"chr":24,"w":0,"n":9900},{"chr":24,"w":1,"n":13800},{"chr":24,"w":2,"n":11900},{"chr":24,"w":3,"n":15200},{"chr":24,"w":4,"n":14000},{"chr":24,"w":5,"n":11400},{"chr":24,"w":6,"n":12700},{"chr":24,"w":7,"n":13800},{"chr":24,"w":8,"n":14000},{"chr":24,"w":9,"n":14400},{"chr":24,"w":10,"n":14400},{"chr":24,"w":11,"n":15200},{"chr":24,"w":12,"n":14600},{"chr":24,"w":13,"n":14200},{"chr":24,"w":14,"n":16300},{"chr":24,"w":15,"n":14600},{"chr":24,"w":16,"n":17000},{"chr":24,"w":17,"n":17000},{"chr":24,"w":18,"n":15200},{"chr":24,"w":19,"n":16300},{"chr":24,"w":20,"n":16300},{"chr":24,"w":21,"n":15000},{"chr":24,"w":22,"n":14000},{"chr":24,"w":23,"n":7600},{"chr":24,"w":24,"n":16300},{"chr":24,"w":25,"n":12400},{"chr":24,"w":26,"n":15200},{"chr":24,"w":27,"n":15600},{"chr":24,"w":28,"n":16300},{"chr":24,"w":29,"n":12500},{"chr":24,"w":30,"n":15000},{"chr":24,"w":31,"n":11100},{"chr":24,"w":32,"n":11700},{"chr":24,"w":33,"n":9900},{"chr":25,"w":0,"n":11100},{"chr":25,"w":1,"n":15200},{"chr":25,"w":2,"n":15700},{"chr":25,"w":3,"n":11100},{"chr":25,"w":4,"n":14600},{"chr":25,"w":5,"n":14600},{"chr":25,"w":6,"n":16100},{"chr":25,"w":7,"n":15500},{"chr":25,"w":8,"n":15200},{"chr":25,"w":9,"n":15200},{"chr":25,"w":10,"n":17200},{"chr":25,"w":11,"n":16500},{"chr":25,"w":12,"n":14600},{"chr":25,"w":13,"n":16800},{"chr":25,"w":14,"n":13300},{"chr":25,"w":15,"n":15000},{"chr":25,"w":16,"n":16100},{"chr":25,"w":17,"n":11100},{"chr":25,"w":18,"n":14200},{"chr":25,"w":19,"n":13800},{"chr":25,"w":20,"n":13800},{"chr":25,"w":21,"n":12500},{"chr":25,"w":22,"n":8500},{"chr":25,"w":23,"n":14400},{"chr":25,"w":24,"n":12800},{"chr":25,"w":25,"n":6100},{"chr":25,"w":26,"n":6700},{"chr":25,"w":27,"n":13800},{"chr":25,"w":28,"n":8900},{"chr":25,"w":29,"n":13000},{"chr":25,"w":30,"n":15000},{"chr":25,"w":31,"n":10800},{"chr":25,"w":32,"n":9900}]},"mark":{"type":"rect","width":23.2,"xOffset":11.48},"encoding":{"x":{"field":"w","type":"quantitative","title":null,"scale":{"domain":[0,68],"nice":false,"zero":false},"axis":{"orient":"top","offset":-135,"values":[0,7.5,15,22.5,30,37.5,45,52.5,60,67.5],"labelExpr":"format(datum.value*7.4/7.5,'.1~f')+'Mb'","domain":true,"domainColor":"#000000","domainWidth":4,"tickColor":"#111111","tickWidth":2.5,"tickSize":-13,"labelFontSize":39,"labelFontWeight":"bold","labelColor":"#000000","labelPadding":34}},"y":{"field":"chr","type":"ordinal","title":null,"scale":{"domain":[-2,-1,0,1,2,3,4,5,6,7,8,9,10,11,12,13,14,15,16,17,18,19,20,21,22,23,24,25],"paddingInner":0.26,"paddingOuter":0.41,"align":1},"axis":{"values":[1,2,3,4,5,6,7,8,9,10,11,12,13,14,15,16,17,18,19,20,21,22,23,24,25],"labelExpr":"'chr'+datum.value","domain":false,"ticks":false,"labelFontSize":33,"labelFontWeight":"bold","labelColor":"#000000","labelPadding":23}},"color":{"field":"n","type":"quantitative","legend":null,"scale":{"domain":[0,1,2216,4431,6646,8861,9900,11076,13291,15506,17721,19936],"range":["#f2f2f2","#006400","#388400","#72a800","#aac800","#e2ee00","#ffff00","#ffdf00","#ffaa00","#ff6a00","#ff3a00","#ff0000"]}}}},{"data":{"values":[{"rank":0,"n":0},{"rank":1,"n":1},{"rank":2,"n":2216},{"rank":3,"n":4431},{"rank":4,"n":6646},{"rank":5,"n":8861},{"rank":6,"n":11076},{"rank":7,"n":13291},{"rank":8,"n":15506},{"rank":9,"n":17721},{"rank":10,"n":19936}]},"mark":{"type":"rect","width":53.6,"height":48},"encoding":{"x":{"datum":62.4},"y":{"field":"rank","type":"quantitative","title":null,"axis":null,"scale":{"domain":[-14.36,10.74],"reverse":true,"nice":false,"zero":false}},"color":{"field":"n","type":"quantitative","legend":null}}},{"data":{"values":[{"rank":0,"label":"0"},{"rank":1,"label":"1"},{"rank":2,"label":"2216"},{"rank":3,"label":"4431"},{"rank":4,"label":"6646"},{"rank":5,"label":"8861"},{"rank":6,"label":"11,076"},{"rank":7,"label":"13,291"},{"rank":8,"label":"15,506"},{"rank":9,"label":"17,721"},{"rank":10,"label":">17,721"}]},"mark":{"type":"text","font":"Liberation Serif","fontSize":28.5,"fontWeight":"bold","align":"left","baseline":"middle","color":"#000000"},"encoding":{"x":{"datum":65.37},"y":{"field":"rank","type":"quantitative","title":null,"axis":null,"scale":{"domain":[-14.36,10.74],"reverse":true,"nice":false,"zero":false}},"text":{"field":"label"}}},{"data":{"values":[{}]},"mark":{"type":"text","font":"Liberation Serif","fontSize":70,"align":"center","baseline":"alphabetic","color":"#000000","clip":false},"encoding":{"x":{"datum":-5.57},"y":{"datum":-13.92,"axis":null,"scale":{"domain":[-14.36,10.74],"reverse":true,"nice":false,"zero":false}},"text":{"value":"B"}}},{"data":{"values":[{}]},"mark":{"type":"text","font":"Liberation Serif","fontSize":56.3,"fontWeight":"bold","align":"center","baseline":"alphabetic","color":"#000000"},"encoding":{"x":{"datum":33.58},"y":{"datum":-13.55,"axis":null,"scale":{"domain":[-14.36,10.74],"reverse":true,"nice":false,"zero":false}},"text":{"value":"The number of SNPs within 1Mb window size"}}}]}]}
